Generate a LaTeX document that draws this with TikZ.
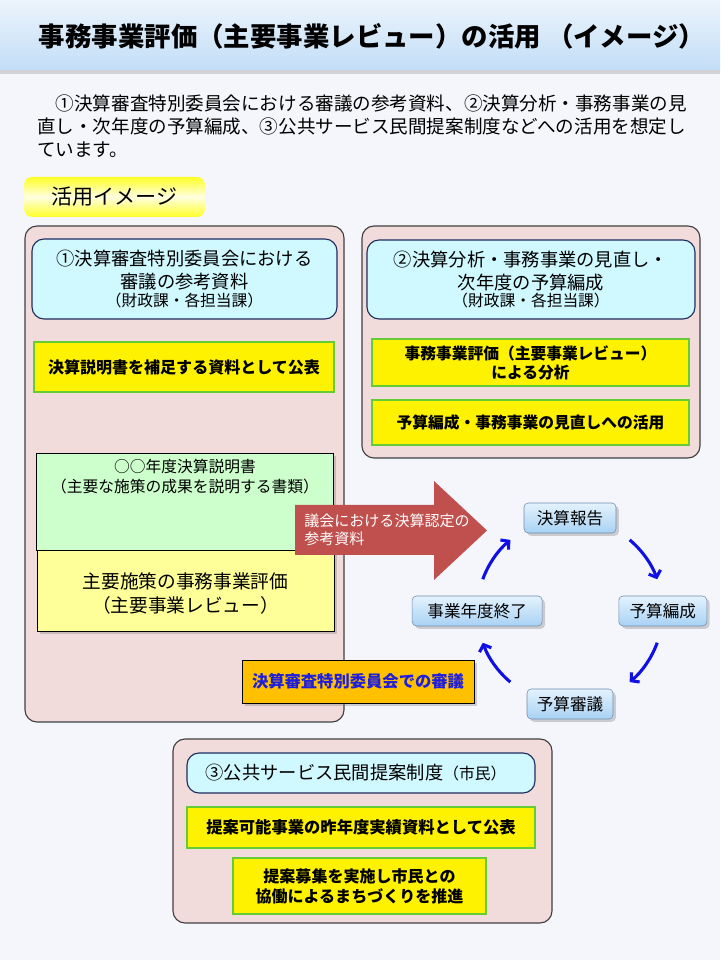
\documentclass[tikz,border=0pt]{standalone}
\usepackage{fontspec}
\setmainfont{Noto Sans CJK JP}
\usetikzlibrary{shadows,arrows.meta}

\definecolor{bgcol}{RGB}{245,246,251}
\definecolor{titletop}{RGB}{236,244,252}
\definecolor{titlebot}{RGB}{194,222,247}
\definecolor{tagyellow}{RGB}{255,255,40}
\definecolor{tagmid}{RGB}{255,255,225}
\definecolor{panelfill}{RGB}{242,220,219}
\definecolor{panelline}{RGB}{64,64,64}
\definecolor{headfill}{RGB}{207,248,255}
\definecolor{headline}{RGB}{31,45,96}
\definecolor{yelline}{RGB}{102,204,51}
\definecolor{greenfill}{RGB}{204,255,204}
\definecolor{paleyellow}{RGB}{255,255,153}
\definecolor{orangefill}{RGB}{255,192,0}
\definecolor{bluetext}{RGB}{30,30,220}
\definecolor{arrowred}{RGB}{192,80,77}
\definecolor{cyctop}{RGB}{228,242,253}
\definecolor{cycbot}{RGB}{168,210,244}
\definecolor{cycline}{RGB}{110,140,175}
\definecolor{cycblue}{RGB}{16,16,230}

\begin{document}
\begin{tikzpicture}[
    panel/.style={draw=panelline, fill=panelfill, line width=0.8pt, rounded corners=0.3cm},
    headbox/.style={draw=headline, fill=headfill, line width=0.8pt, rounded corners=0.3cm},
    yelbox/.style={draw=yelline, fill=yellow, line width=1pt},
    shadowed/.style={drop shadow={shadow xshift=2pt, shadow yshift=-2pt, opacity=0.35}},
    cycnode/.style={draw=cycline, top color=cyctop, bottom color=cycbot, rounded corners=3pt,
      minimum height=0.75cm, shadowed, font=\fontsize{11.8}{14}\selectfont},
    cycarrow/.style={draw=cycblue, line width=2.2pt, -{Straight Barb[length=4pt,width=9pt]}}
  ]
    \useasboundingbox (0,0) rectangle (18,24);
    \fill[bgcol] (0,0) rectangle (18,24);

    % title band
    \path[top color=titletop, bottom color=titlebot,
      drop shadow={shadow xshift=0pt, shadow yshift=-3pt, opacity=0.3}] (0,24) rectangle (18,22.25);
    \node[font=\bfseries\fontsize{18.8}{22}\selectfont] (title) at (9.3,23.1) {事務事業評価（主要事業レビュー）の活用 （イメージ）};

    \node[anchor=west, inner sep=0, align=left, font=\fontsize{13.2}{16.4}\selectfont] (intro) at (0.925,20.85) {　①決算審査特別委員会における審議の参考資料、②決算分析・事務事業の見\\直し・次年度の予算編成、③公共サービス民間提案制度などへの活用を想定し\\ています。};

    \node[rounded corners=0.2cm, top color=tagyellow, bottom color=tagyellow, middle color=tagmid,
      minimum width=4.525cm, minimum height=1cm, font=\fontsize{15}{17}\selectfont] (tag) at (2.8625,19.075) {活用イメージ};

    % panels
    \draw[panel] (0.625,18.35) rectangle (8.6,5.95);
    \draw[panel] (9.05,18.35) rectangle (17.5,12.55);
    \draw[panel] (4.325,5.525) rectangle (13.8,0.925);

    % (1)
    \draw[headbox] (0.8,18.025) rectangle (8.425,16.025);
    \node[align=center, font=\fontsize{13}{16.4}\selectfont] (head1) at (4.6125,17.025) {①決算審査特別委員会における\\審議の参考資料\\[-4pt]{\fontsize{11.2}{12}\selectfont （財政課・各担当課）}};

    \draw[yelbox] (0.85,15.45) rectangle (8.35,14.2);
    \node[font=\bfseries\fontsize{11.4}{14}\selectfont] (hosoku) at (4.6,14.825) {決算説明書を補足する資料として公表};

    \draw[shadowed, draw=black, fill=greenfill] (0.9,12.675) rectangle (8.325,10.25);
    \node[align=center, font=\fontsize{11.2}{14.2}\selectfont] (setsumei) at (4.625,12.075) {○○年度決算説明書\\（主要な施策の成果を説明する書類）};

    \draw[shadowed, draw=black, fill=paleyellow] (0.925,10.25) rectangle (8.35,8.225);
    \node[align=center, font=\fontsize{13.3}{16.4}\selectfont] (review) at (4.6375,9.1625) {主要施策の事務事業評価\\（主要事業レビュー）};

    % (2)
    \draw[headbox] (9.175,18.0) rectangle (17.375,16.025);
    \node[align=center, font=\fontsize{13}{16.4}\selectfont] (head2) at (13.275,17.0125) {②決算分析・事務事業の見直し・\\次年度の予算編成\\[-4pt]{\fontsize{11.2}{12}\selectfont （財政課・各担当課）}};

    \draw[yelbox] (9.3,15.525) rectangle (17.225,14.35);
    \node[align=center, font=\bfseries\fontsize{11.2}{13.5}\selectfont] (bunseki) at (13.2625,14.9375) {事務事業評価（主要事業レビュー）\\による分析};

    \draw[yelbox] (9.3,14.0) rectangle (17.225,12.875);
    \node[font=\bfseries\fontsize{11.2}{13.5}\selectfont] (minaoshi) at (13.2625,13.4375) {予算編成・事務事業の見直しへの活用};

    % big arrow
    \fill[arrowred] (7.375,11.375) -- (10.85,11.375) -- (10.85,11.975) -- (12.175,10.7375)
      -- (10.85,9.5) -- (10.85,10.125) -- (7.375,10.125) -- cycle;
    \node[anchor=west, inner sep=0, align=left, text=white, font=\fontsize{10.7}{12.8}\selectfont] (nintei) at (7.6,10.75) {議会における決算認定の\\参考資料};

    \draw[shadowed, draw=black, fill=orangefill] (6.05,7.5) rectangle (11.85,6.425);
    \node[text=bluetext, font=\bfseries\fontsize{11.6}{14}\selectfont] (shingi) at (8.95,6.9625) {決算審査特別委員会での審議};

    % cycle
    \coordinate (cyc) at (14.25,8.725);
    \node[cycnode, minimum width=2.3cm] (houkoku) at (14.25,11.05) {決算報告};
    \node[cycnode, minimum width=2.2cm] (hensei) at (16.57,8.725) {予算編成};
    \node[cycnode, minimum width=2.15cm] (shinsa) at (14.25,6.4) {予算審議};
    \node[cycnode, minimum width=3.25cm] (shuryo) at (11.93,8.725) {事業年度終了};

    \path (cyc) ++(50:2.32) coordinate (a1);
    \path (cyc) ++(-20:2.32) coordinate (a2);
    \path (cyc) ++(-130:2.32) coordinate (a3);
    \path (cyc) ++(160:2.32) coordinate (a4);
    \draw[cycarrow] (a1) arc[start angle=50, end angle=20, radius=2.32];
    \draw[cycarrow] (a2) arc[start angle=-20, end angle=-50, radius=2.32];
    \draw[cycarrow] (a3) arc[start angle=-130, end angle=-160, radius=2.32];
    \draw[cycarrow] (a4) arc[start angle=160, end angle=130, radius=2.32];

    % (3)
    \draw[headbox] (4.675,5.175) rectangle (13.375,4.175);
    \node[font=\fontsize{13}{16}\selectfont] (head3) at (8.9,4.675) {③公共サービス民間提案制度{\fontsize{11.2}{12}\selectfont （市民）}};

    \draw[yelbox] (4.675,3.825) rectangle (13.375,2.8);
    \node[font=\bfseries\fontsize{11.6}{14}\selectfont] (jisseki) at (9.025,3.3125) {提案可能事業の昨年度実績資料として公表};

    \draw[yelbox] (5.825,2.55) rectangle (12.15,1.15);
    \node[align=center, font=\bfseries\fontsize{11.4}{14.2}\selectfont] (kyodo) at (8.9875,1.85) {提案募集を実施し市民との\\協働によるまちづくりを推進};
\end{tikzpicture}
\end{document}
